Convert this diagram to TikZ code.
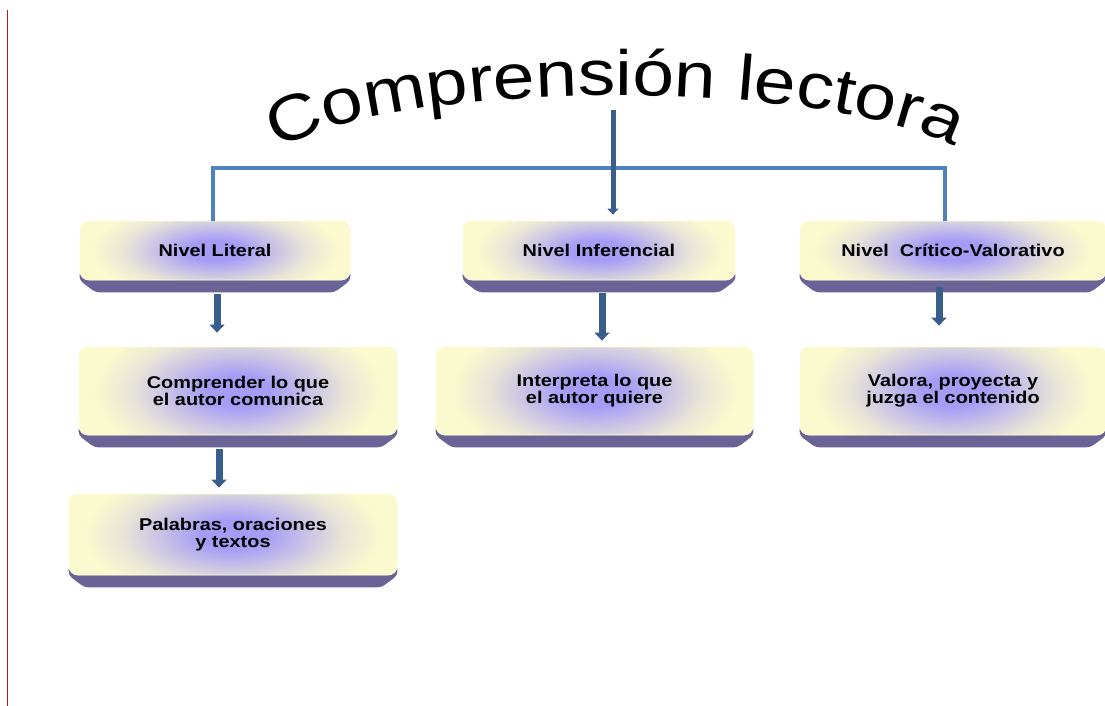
\documentclass[tikz,border=0pt]{standalone}
\usepackage{fontspec}
\usepackage{tikz}
\newfontfamily\cajafont{Liberation Sans}[FakeStretch=1.17]
\usetikzlibrary{arrows.meta}
\usetikzlibrary{backgrounds}
\usetikzlibrary{calc}
\usetikzlibrary{decorations.text}
\usetikzlibrary{positioning}
\definecolor{amarillo}{RGB}{251,250,206}
\definecolor{lila}{RGB}{166,156,246}
\colorlet{lilamed}{lila!60!amarillo}
\colorlet{lilasuave}{lila!22!amarillo}
\definecolor{mbase}{RGB}{106,100,150}
\definecolor{mazul}{RGB}{79,129,189}
\definecolor{mflecha}{RGB}{58,94,140}
\definecolor{mrojo}{RGB}{200,20,20}
\pgfdeclareradialshading{brillo}{\pgfpoint{0bp}{0bp}}{color(0bp)=(lila); color(5bp)=(lila); color(11bp)=(lilamed); color(17bp)=(lilasuave); color(23bp)=(amarillo); color(50bp)=(amarillo)}
\tikzset{caja/.style = {rounded corners=9pt, fill=amarillo, draw=amarillo!80!white, line width=0.8pt, align=center, inner sep=0,
    font=\cajafont\bfseries\fontsize{17}{17}\selectfont,
    path picture={\shade[shading=brillo] let \p1=(path picture bounding box.north east), \p2=(path picture bounding box.south west) in
      (\x2, {\y2-0.4*(\y1-\y2)}) rectangle (\x1, {\y1+0.4*(\y1-\y2)});}}}
\tikzset{flecha/.style = {draw=mflecha, line width=7pt, -{Triangle[width=15pt, length=8pt]}}}
\tikzset{flechat/.style = {draw=mflecha, line width=5pt, -{Triangle[width=11pt, length=6pt]}}}
\tikzset{rama/.style = {draw=mazul, line width=4.5pt}}

\begin{document}
\begin{tikzpicture}[x=1pt, y=-1pt]
      \useasboundingbox (0,0) rectangle (1105,706);
      \draw [mrojo, line width=0.9pt] (7,10) -- (7,706);

      \path [decorate, decoration={text along path, text align=center,
        text={|\cajafont\fontsize{64}{64}\selectfont|Comprensión lectora}}]
        (264,158) .. controls (380,74) and (850,76) .. (968,155);

      \node [caja, minimum width=270pt, minimum height=59pt] (lit) at (215,250.5) {Nivel Literal};
      \node [caja, minimum width=272pt, minimum height=59pt] (inf) at (599,250.5) {Nivel Inferencial};
      \node [caja, minimum width=306pt, minimum height=59pt] (crit) at (953,250.5) {Nivel~~Crítico-Valorativo};
      \node [caja, minimum width=318pt, minimum height=88pt] (comp) at (238,391) {Comprender lo que\\ el autor comunica};
      \node [caja, minimum width=317pt, minimum height=88pt] (interp) at (594.5,391) {Interpreta lo que\\ el autor quiere};
      \node [caja, minimum width=306pt, minimum height=88pt] (valora) at (953,391) {Valora, proyecta y\\juzga el contenido};
      \node [caja, minimum width=328pt, minimum height=81pt] (pal) at (233,534.5) {Palabras, oraciones\\ y textos};

      \begin{scope}[on background layer]
        \foreach \n in {lit, inf, crit, comp, interp, valora, pal}
          \fill [mbase, rounded corners=4pt] ([yshift=10pt]\n.south west) -- (\n.south west)
            -- ([xshift=16pt, yshift=-12pt]\n.south west) -- ([xshift=-16pt, yshift=-12pt]\n.south east)
            -- (\n.south east) -- ([yshift=10pt]\n.south east) -- cycle;
      \end{scope}

      \coordinate (tit) at (613,110);
      \coordinate (cruce) at (613,168);
      \draw [rama] ([xshift=-2pt]lit.north) |- (cruce) -| ([xshift=-8pt]crit.north);
      \draw [flechat] (tit) -- ($(tit |- inf.north)+(0,-6)$);

      \draw [flecha] ($(lit.south)+(2,14)$) -- ($(comp.north)+(-21,-14)$);
      \draw [flecha] ($(comp.south)+(-19,14)$) -- ($(pal.north)+(-14,-6)$);
      \draw [flecha] ($(inf.south)+(3,13)$) -- ($(interp.north)+(7.5,-6)$);
      \draw [flecha] ($(crit.south)+(-14,7)$) -- ($(valora.north)+(-14,-21)$);
    \end{tikzpicture}
\end{document}
